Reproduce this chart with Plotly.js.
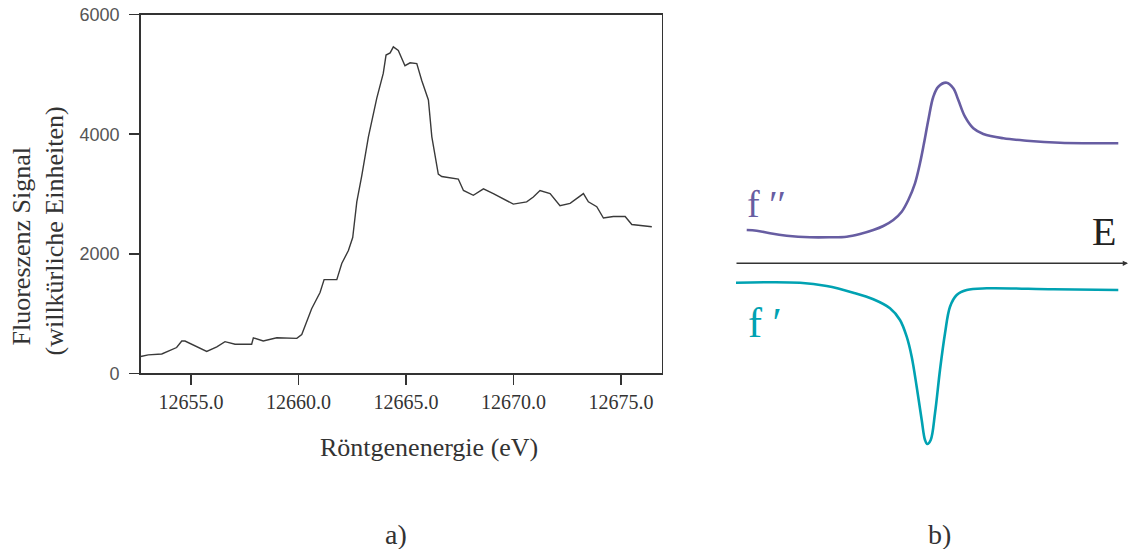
<!DOCTYPE html>
<html>
<head>
<meta charset="utf-8">
<script src="https://cdn.plot.ly/plotly-3.0.1.min.js"></script>
<style>html,body{margin:0;padding:0;background:#fff;}#chart{width:1131px;height:549px;}</style>
</head>
<body>
<div id="chart"></div>
<script>
// Panel a): fluorescence signal vs X-ray energy
const energyEV = [12652.66,12653.01,12653.64,12654.33,12654.57,12654.72,12655.73,12656.20,12656.58,12657.05,
  12657.82,12657.90,12658.36,12658.99,12659.92,12660.15,12660.61,12661.00,12661.19,12661.78,
  12662.01,12662.32,12662.52,12662.71,12662.94,12663.25,12663.64,12663.94,12664.07,12664.26,
  12664.41,12664.64,12664.95,12665.19,12665.50,12665.73,12666.04,12666.20,12666.50,12666.66,
  12667.43,12667.67,12668.13,12668.60,12669.06,12669.53,12669.99,12670.61,12670.92,12671.23,
  12671.70,12672.16,12672.63,12673.25,12673.48,12673.87,12674.18,12674.64,12675.19,12675.50,
  12676.04,12676.43];
const fluorescence = [281,308,324,431,540,540,367,443,529,487,
  487,594,540,594,584,649,1080,1351,1567,1567,
  1838,2054,2272,2869,3304,3956,4604,5018,5325,5361,
  5462,5403,5147,5195,5183,4899,4574,3956,3332,3293,
  3250,3059,2978,3087,3006,2913,2831,2869,2950,3059,
  3006,2804,2843,3006,2869,2787,2598,2624,2624,2489,
  2461,2451];
const xTicks = [12655,12660,12665,12670,12675];
const yTicks = [0,2000,4000,6000];

// Panel b): schematic f'' and f' vs E (arbitrary units)
const eF2 = [2.98,5.52,8.91,13.16,19.08,24.17,28.42,31.81,35.19,37.74,40.28,42.42,44.10,45.80,47.07,
  48.09,49.19,50.46,51.73,53.87,55.55,56.82,58.52,60.64,63.18,68.27,74.22,82.70,97.53];
const f2 = [3.33,3.26,3.0,2.76,2.6,2.6,2.66,2.93,3.33,3.73,4.33,5.16,6.33,8.0,10.0,
  12.0,14.33,16.66,17.66,18.06,17.5,16.33,14.66,13.5,12.93,12.5,12.26,12.06,12.0];
const eF1 = [0.25,16.54,23.33,30.10,35.19,39.44,41.98,43.69,44.96,46.23,47.51,48.35,48.93,49.80,
  50.89,52.16,53.44,54.71,56.41,58.96,64.05,80.99,97.53];
const f1 = [-1.94,-1.94,-2.27,-2.94,-3.6,-4.5,-5.67,-7.34,-9.34,-12.34,-15.67,-17.67,-18.07,-17.67,
  -15.0,-10.67,-7.0,-4.34,-3.17,-2.67,-2.5,-2.6,-2.67];
const eAxis = [0,100];

const W = 1131, H = 549;
const px = v => v / W;
const py = v => 1 - v / H;
const serif = 'Liberation Serif, Times New Roman, serif';
const purple = '#675da2';
const teal = '#00a2b2';
const dark = '#333333';

const traces = [
  {x: energyEV, y: fluorescence, type: 'scatter', mode: 'lines',
   line: {color: '#3a3a3a', width: 1.4}, xaxis: 'x', yaxis: 'y', hoverinfo: 'skip'},
  {x: eF2, y: f2, type: 'scatter', mode: 'lines', line: {color: purple, width: 2.6, shape: 'spline'},
   xaxis: 'x2', yaxis: 'y2', hoverinfo: 'skip'},
  {x: eF1, y: f1, type: 'scatter', mode: 'lines', line: {color: teal, width: 2.6, shape: 'spline'},
   xaxis: 'x2', yaxis: 'y2', hoverinfo: 'skip'}
];

const axisCommon = {
  showline: true, mirror: true, linecolor: dark, linewidth: 1.5,
  ticks: 'outside', ticklen: 10, tickwidth: 1.5, tickcolor: dark,
  showgrid: false, zeroline: false, fixedrange: true
};

const layout = {
  width: W, height: H,
  margin: {l: 0, r: 0, t: 0, b: 0},
  paper_bgcolor: '#ffffff', plot_bgcolor: '#ffffff',
  showlegend: false,
  xaxis: Object.assign({}, axisCommon, {
    domain: [px(140.7), px(661.7)], range: [12652.66, 12676.89],
    tickvals: xTicks, tickformat: '.1f',
    tickfont: {family: serif, size: 20, color: dark}, anchor: 'y'
  }),
  yaxis: Object.assign({}, axisCommon, {
    domain: [py(373.3), py(14.7)], range: [0, 6000],
    tickvals: yTicks, ticklabelstandoff: 6,
    tickfont: {family: 'Liberation Sans, Arial, sans-serif', size: 18, color: '#555'}, anchor: 'x'
  }),
  xaxis2: {domain: [px(735), px(1128)], range: [0, 100], visible: false, anchor: 'y2', fixedrange: true},
  yaxis2: {domain: [py(460), py(60)], range: [-19.67, 20.33], visible: false, anchor: 'x2', fixedrange: true},
  annotations: [
    {text: 'Fluoreszenz Signal', xref: 'paper', yref: 'paper', x: px(21), y: py(348),
     xanchor: 'center', yanchor: 'bottom', textangle: -90, showarrow: false,
     font: {family: serif, size: 26, color: dark}},
    {text: '(willkürliche Einheiten)', xref: 'paper', yref: 'paper', x: px(54), y: py(358),
     xanchor: 'center', yanchor: 'bottom', textangle: -90, showarrow: false,
     font: {family: serif, size: 26, color: dark}},
    {text: 'Röntgenenergie (eV)', xref: 'paper', yref: 'paper', x: px(429), y: py(447),
     xanchor: 'center', yanchor: 'middle', showarrow: false,
     font: {family: serif, size: 26, color: dark}},
    {text: 'a)', xref: 'paper', yref: 'paper', x: px(396), y: py(534),
     xanchor: 'center', yanchor: 'middle', showarrow: false,
     font: {family: serif, size: 28, color: dark}},
    {text: 'b)', xref: 'paper', yref: 'paper', x: px(939), y: py(534),
     xanchor: 'center', yanchor: 'middle', showarrow: false,
     font: {family: serif, size: 28, color: dark}},
    {text: 'E', xref: 'paper', yref: 'paper', x: px(1104), y: py(232),
     xanchor: 'center', yanchor: 'middle', showarrow: false,
     font: {family: serif, size: 40, color: '#222'}},
    {text: 'f ′′', xref: 'paper', yref: 'paper', x: px(745), y: py(204),
     xanchor: 'left', yanchor: 'middle', showarrow: false,
     font: {family: serif, size: 38, color: purple}},
    {text: 'f ′', xref: 'paper', yref: 'paper', x: px(746), y: py(323),
     xanchor: 'left', yanchor: 'middle', showarrow: false,
     font: {family: serif, size: 42, color: teal}},
    {text: '', xref: 'x2', yref: 'y2', x: eAxis[1], y: 0, axref: 'x2', ayref: 'y2', ax: eAxis[0], ay: 0,
     showarrow: true, arrowhead: 2, arrowsize: 0.7, arrowwidth: 1.5, arrowcolor: dark}
  ]
};

Plotly.newPlot('chart', traces, layout, {displayModeBar: false, staticPlot: true});
</script>
</body>
</html>
